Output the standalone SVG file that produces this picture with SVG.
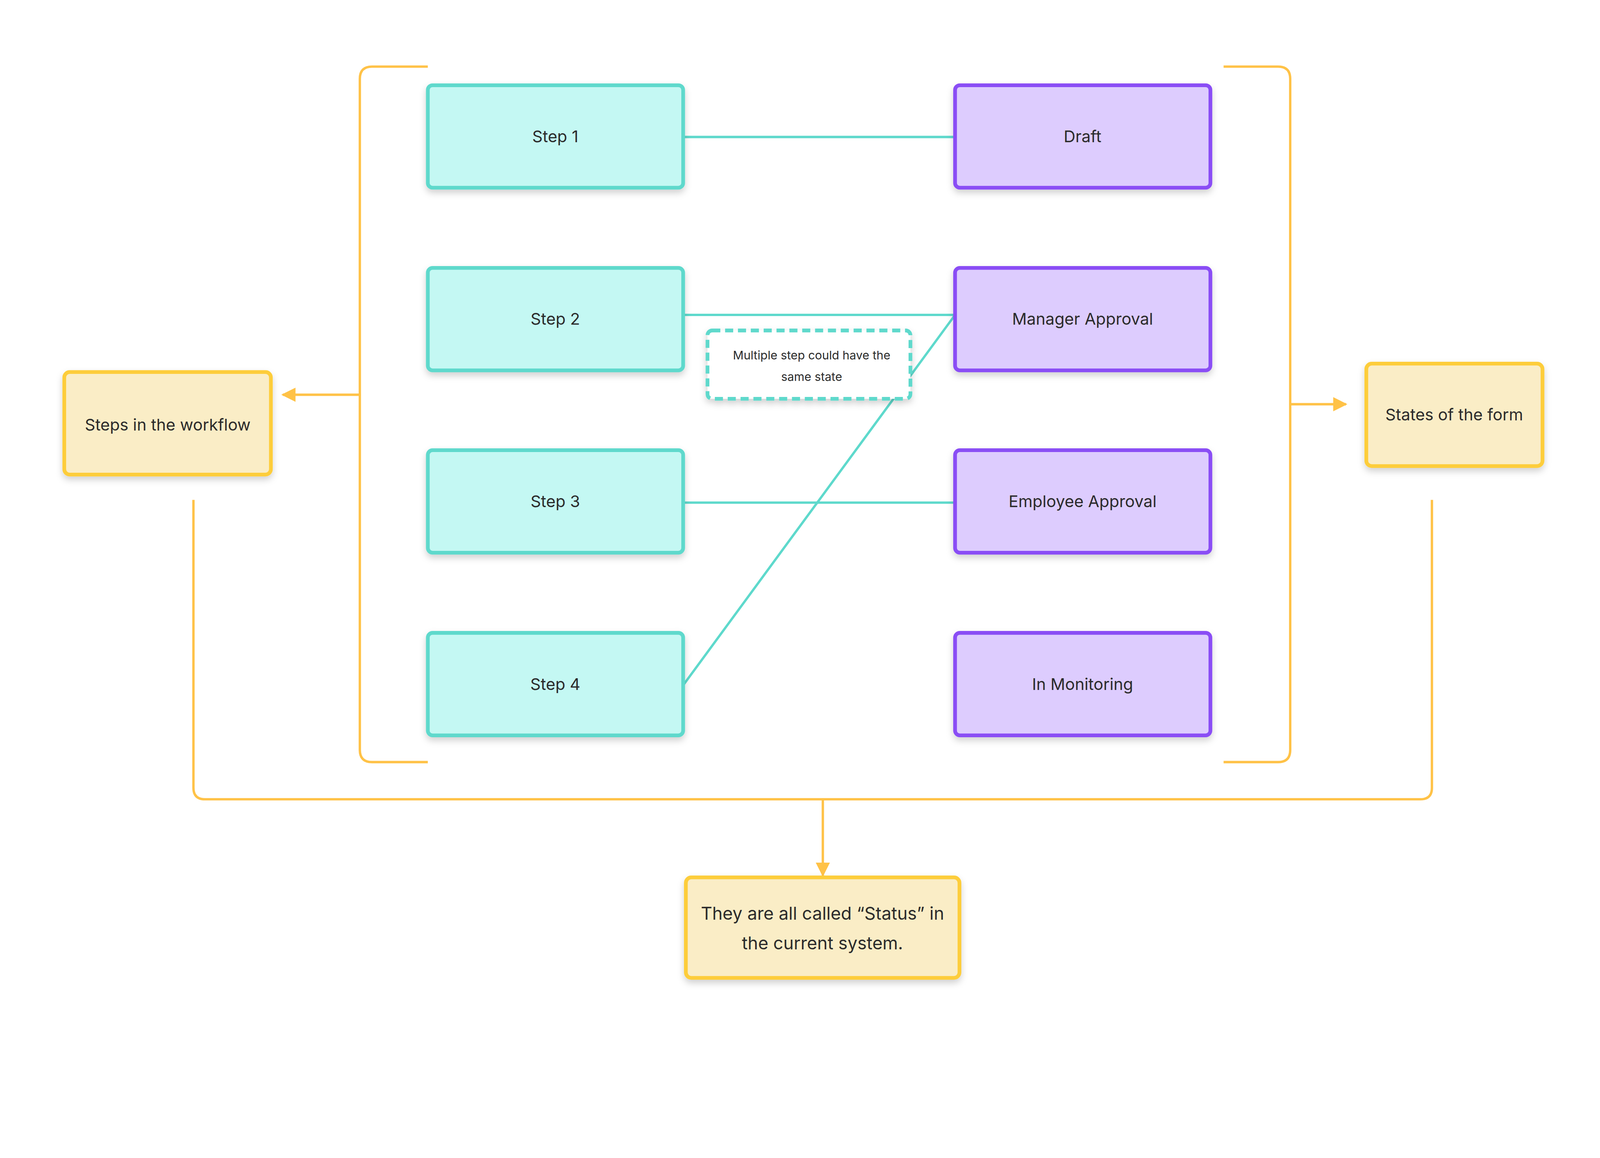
<svg xmlns="http://www.w3.org/2000/svg" width="4731" height="2964" viewBox="0 0 4731 2964" preserveAspectRatio="xMidYMin meet" style="max-width:100vw;max-height:100vh">
<style>
text{font-family:Inter,"Noto Sans",sans-serif;fill:#2b2b2b;text-anchor:middle;dominant-baseline:central}
.s{fill:#C4F8F3;stroke:#5ED9CC;stroke-width:11}
.p{fill:#DDCCFE;stroke:#8A4DF5;stroke-width:11}
.y{fill:#FAEDC6;stroke:#FDCD3A;stroke-width:11}
.t{font-size:48px}
.c{fill:none;stroke:#5ED9CC;stroke-width:7}
.o{fill:none;stroke:#FFC247;stroke-width:7}
</style>
<defs>
<filter id="sh" x="-10%" y="-10%" width="120%" height="140%"><feDropShadow dx="0" dy="10" stdDeviation="10" flood-color="#000" flood-opacity="0.18"/></filter>
<marker id="ar" viewBox="0 0 10 10" refX="9" refY="5" markerWidth="6" markerHeight="6" markerUnits="strokeWidth" orient="auto"><path d="M0,0L10,5L0,10z" fill="#FFC247"/></marker>
</defs>
<rect width="4731" height="2964" fill="#fff"/>
<g id="connectors">
<path class="o" d="M1265,197H1100Q1064,197 1064,233V2217Q1064,2253 1100,2253H1265"/>
<path class="o" d="M3618,197H3779Q3815,197 3815,233V2217Q3815,2253 3779,2253H3618"/>
<path class="o" d="M1064,1167H836" marker-end="url(#ar)"/>
<path class="o" d="M3815,1195H3980" marker-end="url(#ar)"/>
<path class="o" d="M572,1478V2329Q572,2363 606,2363H4200Q4234,2363 4234,2329V1478"/>
<path class="o" d="M2433,2363V2588" marker-end="url(#ar)"/>
<path class="c" d="M2020,405H2824"/>
<path class="c" d="M2020,931H2824"/>
<path class="c" d="M2020,1486H2824"/>
<path class="c" d="M2020,2026L2824,931"/>
</g>
<g id="step1"><rect class="s" x="1265" y="252" width="755" height="303" rx="14" filter="url(#sh)"/><text class="t" x="1642" y="403">Step 1</text></g>
<g id="step2"><rect class="s" x="1265" y="792" width="755" height="303" rx="14" filter="url(#sh)"/><text class="t" x="1642" y="943">Step 2</text></g>
<g id="step3"><rect class="s" x="1265" y="1331" width="755" height="303" rx="14" filter="url(#sh)"/><text class="t" x="1642" y="1482">Step 3</text></g>
<g id="step4"><rect class="s" x="1265" y="1871" width="755" height="303" rx="14" filter="url(#sh)"/><text class="t" x="1642" y="2022">Step 4</text></g>
<g id="draft"><rect class="p" x="2824" y="252" width="755" height="303" rx="14" filter="url(#sh)"/><text class="t" x="3201" y="403">Draft</text></g>
<g id="manager"><rect class="p" x="2824" y="792" width="755" height="303" rx="14" filter="url(#sh)"/><text class="t" x="3201" y="943">Manager Approval</text></g>
<g id="employee"><rect class="p" x="2824" y="1331" width="755" height="303" rx="14" filter="url(#sh)"/><text class="t" x="3201" y="1482">Employee Approval</text></g>
<g id="monitoring"><rect class="p" x="2824" y="1871" width="755" height="303" rx="14" filter="url(#sh)"/><text class="t" x="3201" y="2022">In Monitoring</text></g>
<g id="note"><rect x="2092" y="977" width="600" height="202" rx="14" fill="#fff" stroke="#5ED9CC" stroke-width="11" stroke-dasharray="24,14" filter="url(#sh)"/><text x="2400" y="1050" font-size="35">Multiple step could have the</text><text x="2400" y="1113" font-size="35">same state</text></g>
<g id="steps-workflow"><rect class="y" x="190" y="1100" width="611" height="303" rx="16" filter="url(#sh)"/><text class="t" x="496" y="1256">Steps in the workflow</text></g>
<g id="states-form"><rect class="y" x="4040" y="1075" width="521" height="303" rx="16" filter="url(#sh)"/><text class="t" x="4300" y="1226">States of the form</text></g>
<g id="status"><rect class="y" x="2028" y="2594" width="809" height="297" rx="16" filter="url(#sh)"/><text x="2432" y="2700" font-size="52">They are all called “Status” in</text><text x="2432" y="2788" font-size="52">the current system.</text></g>
</svg>
